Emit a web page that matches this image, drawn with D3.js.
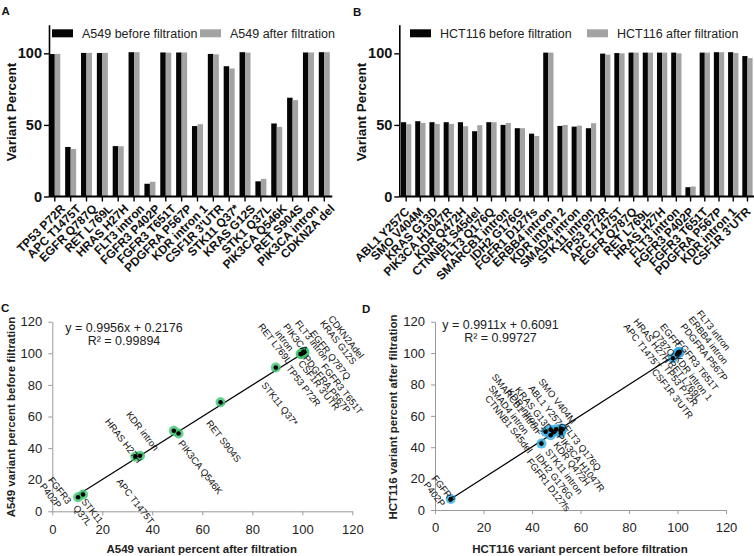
<!DOCTYPE html>
<meta charset="utf-8">
<script src="https://d3js.org/d3.v7.min.js"></script>
<style>
  body { margin: 0; background: #fff; }
  svg { font-family: Arial, "Liberation Sans", sans-serif; }
</style>
<svg id="chart" width="754" height="556"></svg>
<script>
// ---- panel A : A549 bars ----
var catsA = ["TP53 P72R", "APC T1475T", "EGFR Q787Q", "RET L769L", "HRAS H27H", "FLT3 intron",
  "FGFR3 P402P", "FGFR3 T651T", "PDGFRA P567P", "KDR intron 1", "CSF1R 3'UTR", "STK11 Q37*",
  "KRAS G12S", "STK1 Q37L", "PIK3CA Q546K", "RET S904S", "PIK3CA intron", "CDKN2A del"];
var beforeA = [99.5, 34.6, 100.3, 100.2, 35.2, 100.8, 8.9, 100.6, 100.6, 49.2, 99.6, 91.0, 100.8, 10.6, 51.0, 69.0, 100.6, 100.8];
var afterA  = [99.6, 33.2, 100.3, 100.3, 35.1, 100.8, 10.3, 100.5, 100.6, 50.5, 99.3, 89.4, 100.5, 12.3, 48.6, 67.3, 100.6, 100.8];

// ---- panel B : HCT116 bars ----
var catsB = ["ABL1 Y257C", "SMO V404M", "KRAS G13D", "PIK3CA H1047R", "KDR Q472H", "CTNNB1 S45del",
  "FLT3 Q176Q", "SMARCB1 intron", "IDH2 G176G", "FGFR1 D127fs", "ERBB4 intron", "KDR intron 2",
  "SMAD4 intron", "STK11 intron", "TP53 P72R", "APC T1475T", "EGFR Q787Q", "RET L769L", "HRAS H27H",
  "FLT3 intron", "FGFR3 P402P", "FGFR3 T651T", "PDGFRA P567P", "KDR intron 1", "CSF1R 3'UTR"];
var beforeB = [51.9, 52.6, 51.9, 51.9, 51.9, 45.6, 51.9, 50.0, 47.7, 43.9, 100.5, 49.3, 48.8, 47.7,
  99.8, 100.2, 100.5, 100.5, 100.5, 100.5, 6.5, 100.5, 100.8, 100.8, 98.1];
var afterB  = [50.5, 51.4, 50.7, 50.7, 49.1, 49.8, 51.9, 51.4, 47.7, 42.3, 100.5, 50.0, 49.5, 51.2,
  99.1, 100.0, 100.5, 100.5, 100.5, 100.0, 7.0, 100.5, 100.8, 100.2, 96.7];

var barTicks = [0, 50, 100];
var scatterTicks = [0, 20, 40, 60, 80, 100, 120];

// trendlines as printed on the charts
var fitC = { slope: 0.9956, intercept: 0.2176, eq: "y = 0.9956x + 0.2176", r2: "R² = 0.99894" };
var fitD = { slope: 0.9911, intercept: 0.6091, eq: "y = 0.9911x + 0.6091", r2: "R² = 0.99727" };

// point labels [text, x, y] in data units (start of the rotated text)
var labelsC = [
  ["CDKN2Adel", 111.1, 123.0], ["KRAS G12S", 107.8, 120.0], ["EGFR Q787Q", 103.8, 113.7],
  ["FLT3 intron", 97.8, 120.0], ["PIK3CA\nintron", 93.1, 117.9], ["RET L769L", 83.1, 117.9],
  ["PDGFRA P567P", 101.1, 97.8], ["CSF1R 3'UTR", 99.1, 94.7], ["TP53 P72R", 94.3, 91.5],
  ["FGFR3 T651T", 108.3, 92.6], ["STK11 Q37*", 84.4, 81.0], ["RET S904S", 62.3, 56.7],
  ["PIK3CA Q546K", 51.1, 44.1], ["KDR intron", 30.3, 62.2], ["HRAS H27H", 21.8, 57.8],
  ["APC T1475T", 26.4, 19.8], ["FGFR3\nP402P", -0.9, 20.9], ["STK11\nQ37L", 12.4, 7.2]
];
var labelsD = [
  ["FLT3 intron", 108.7, 126.4], ["ERBB4 intron", 105.3, 122.5], ["PDGFRA P567P", 102.0, 118.0],
  ["FGFR3 T651T", 100.5, 107.3], ["KDR intron 1", 99.6, 97.7], ["RET L769L", 97.0, 94.5],
  ["TP53 P72R", 95.0, 91.3], ["CSF1R 3'UTR", 90.2, 89.2], ["EGFR\nQ787Q", 93.6, 117.9],
  ["HRAS H27H", 82.6, 121.1], ["APC T1475T", 78.5, 117.9],
  ["SMO V404M", 43.4, 82.9], ["ABL1 Y257C", 39.3, 78.6], ["KRAS G13D", 33.8, 77.6],
  ["KDR intron 2", 30.4, 76.5], ["SMARCB1 intron", 24.2, 86.0], ["SMAD4 intron", 22.8, 78.6],
  ["CTNNB1 S45del", 21.4, 72.2],
  ["FLT3 Q176Q", 53.7, 53.1], ["PIK3CA H1047R", 51.0, 47.8], ["KDR Q472H", 49.6, 42.5],
  ["STK11 intron", 46.2, 38.2], ["IDH2 G176G", 42.1, 35.1], ["FGFR1 D127fs", 38.6, 31.9],
  ["FGFR3\nP402P", -0.5, 21.2]
];

var svg = d3.select("#chart");

function barPanel(cats, before, after, axisX, x0, x1, pad, legend, legendX, shift) {
  var g = svg.append("g");
  var y = d3.scaleLinear().domain([0, 120]).range([196.5, 24.7]);
  var x = d3.scaleBand().domain(cats).range([x0, x1]).paddingInner(pad).paddingOuter(0);
  var bw = x.bandwidth() / 2;

  g.selectAll(".bb").data(cats).enter().append("rect")
    .attr("x", function(d) { return x(d); })
    .attr("y", function(d, i) { return y(before[i]); })
    .attr("width", bw)
    .attr("height", function(d, i) { return y(0) - y(before[i]); })
    .attr("fill", "#050505");
  g.selectAll(".ba").data(cats).enter().append("rect")
    .attr("x", function(d) { return x(d) + bw; })
    .attr("y", function(d, i) { return y(after[i]); })
    .attr("width", bw)
    .attr("height", function(d, i) { return y(0) - y(after[i]); })
    .attr("fill", "#a3a3a3");

  // y axis
  var ya = g.append("g").attr("transform", "translate(" + axisX + ",0)")
    .call(d3.axisLeft(y).tickValues(barTicks).tickSize(5).tickSizeOuter(0).tickPadding(2));
  ya.select(".domain").attr("stroke-width", 1.6);
  ya.selectAll(".tick line").attr("stroke-width", 1.4);
  ya.selectAll("text").attr("font-size", 14.5).attr("font-weight", "bold").attr("fill", "#111");

  // x axis
  var xa = g.append("g").attr("transform", "translate(0," + y(0) + ")")
    .call(d3.axisBottom(x).tickSize(5).tickSizeOuter(0));
  xa.select(".domain").remove();
  xa.append("line").attr("x1", axisX).attr("x2", x1 + 2.5).attr("stroke", "#000").attr("stroke-width", 1.8);
  xa.selectAll(".tick line").attr("stroke-width", 1.4);
  xa.selectAll("text")
    .attr("x", 0).attr("y", 0).attr("dy", "0.35em")
    .attr("transform", "translate(" + shift[0] + "," + shift[1] + ") rotate(-45)")
    .attr("text-anchor", "end")
    .attr("font-size", 12).attr("font-weight", "bold").attr("fill", "#111");

  // y label
  g.append("text")
    .attr("transform", "translate(" + (axisX - 33) + ",112) rotate(-90)")
    .attr("text-anchor", "middle")
    .attr("font-size", 13.5).attr("font-weight", "bold").attr("fill", "#111")
    .text("Variant Percent");

  // legend
  var fills = ["#050505", "#a3a3a3"];
  legend.forEach(function(t, i) {
    g.append("rect").attr("x", legendX[i]).attr("y", 29.3).attr("width", 21).attr("height", 8)
      .attr("fill", fills[i]);
    g.append("text").attr("x", legendX[i] + 30).attr("y", 37.6)
      .attr("font-size", 12.5).attr("fill", "#222").text(t);
  });
}

barPanel(catsA, beforeA, afterA, 49, 49.3, 329.8, 0.306,
  ["A549 before filtration", "A549 after filtration"], [52, 200], [8, 10]);
barPanel(catsB, beforeB, afterB, 399.3, 401, 752.6, 0.276,
  ["HCT116 before filtration", "HCT116 after filtration"], [410, 587], [1, 13]);

function scatterPanel(xs, ys, xr, yr, fit, labels, color, titleX, titleY, titleXPos, titleYPos, eqX, eqY) {
  var g = svg.append("g");
  var x = d3.scaleLinear().domain([0, 120]).range(xr);
  var y = d3.scaleLinear().domain([0, 120]).range(yr);

  var xa = g.append("g").attr("transform", "translate(0," + y(0) + ")")
    .call(d3.axisBottom(x).tickValues(scatterTicks).tickSize(4).tickSizeOuter(0).tickPadding(9));
  var ya = g.append("g").attr("transform", "translate(" + x(0) + ",0)")
    .call(d3.axisLeft(y).tickValues(scatterTicks).tickSize(4).tickSizeOuter(0).tickPadding(6));
  [xa, ya].forEach(function(a) {
    a.selectAll(".domain, .tick line").attr("stroke", "#999");
    a.selectAll("text").attr("font-size", 13).attr("fill", "#222");
  });

  // trendline
  var ext = d3.extent(xs);
  g.append("line")
    .attr("x1", x(ext[0])).attr("y1", y(fit.slope * ext[0] + fit.intercept))
    .attr("x2", x(ext[1])).attr("y2", y(fit.slope * ext[1] + fit.intercept))
    .attr("stroke", "#000").attr("stroke-width", 1.2);

  g.selectAll(".pt").data(xs).enter().append("circle")
    .attr("cx", function(d) { return x(d); })
    .attr("cy", function(d, i) { return y(ys[i]); })
    .attr("r", 5).attr("fill", color).attr("fill-opacity", 0.8);
  g.selectAll(".dot").data(xs).enter().append("circle")
    .attr("cx", function(d) { return x(d); })
    .attr("cy", function(d, i) { return y(ys[i]); })
    .attr("r", 2.3).attr("fill", "#000");

  labels.forEach(function(l) {
    var t = g.append("text")
      .attr("transform", "translate(" + x(l[1]) + "," + y(l[2]) + ") rotate(52)")
      .attr("font-size", 9.5).attr("fill", "#111").attr("dominant-baseline", "middle");
    l[0].split("\n").forEach(function(s, k) {
      t.append("tspan").attr("x", 0).attr("dy", k ? "1.1em" : 0).text(s);
    });
  });

  g.append("text").attr("x", eqX).attr("y", eqY).attr("text-anchor", "middle")
    .attr("font-size", 12.5).attr("fill", "#222").text(fit.eq);
  g.append("text").attr("x", eqX).attr("y", eqY + 13.3).attr("text-anchor", "middle")
    .attr("font-size", 12.5).attr("fill", "#222").text(fit.r2);

  g.append("text").attr("x", titleXPos).attr("y", 553).attr("text-anchor", "middle")
    .attr("font-size", 11.5).attr("font-weight", "bold").attr("fill", "#222").text(titleX);
  g.append("text").attr("transform", "translate(" + titleYPos + ",417) rotate(-90)")
    .attr("text-anchor", "middle")
    .attr("font-size", 11.5).attr("font-weight", "bold").attr("fill", "#222").text(titleY);
}

// C: x = after, y = before
scatterPanel(afterA, beforeA, [52.3, 352.3], [511.3, 321.7], fitC, labelsC, "#3cc46e",
  "A549 variant percent after filtration", "A549 variant percent before filtration", 201.7, 15, 124, 332);
// D: x = before, y = after
scatterPanel(beforeB, afterB, [435, 726], [510, 321.7], fitD, labelsD, "#33b0e3",
  "HCT116 variant percent before filtration", "HCT116 variant percent after filtration", 580, 396.5, 500.5, 329);

// panel letters
[["A", 1.5, 15], ["B", 353, 16], ["C", 1, 312], ["D", 362, 313]].forEach(function(p) {
  svg.append("text").attr("x", p[1]).attr("y", p[2]).attr("font-size", 11.5)
    .attr("font-weight", "bold").attr("fill", "#111").text(p[0]);
});
</script>
